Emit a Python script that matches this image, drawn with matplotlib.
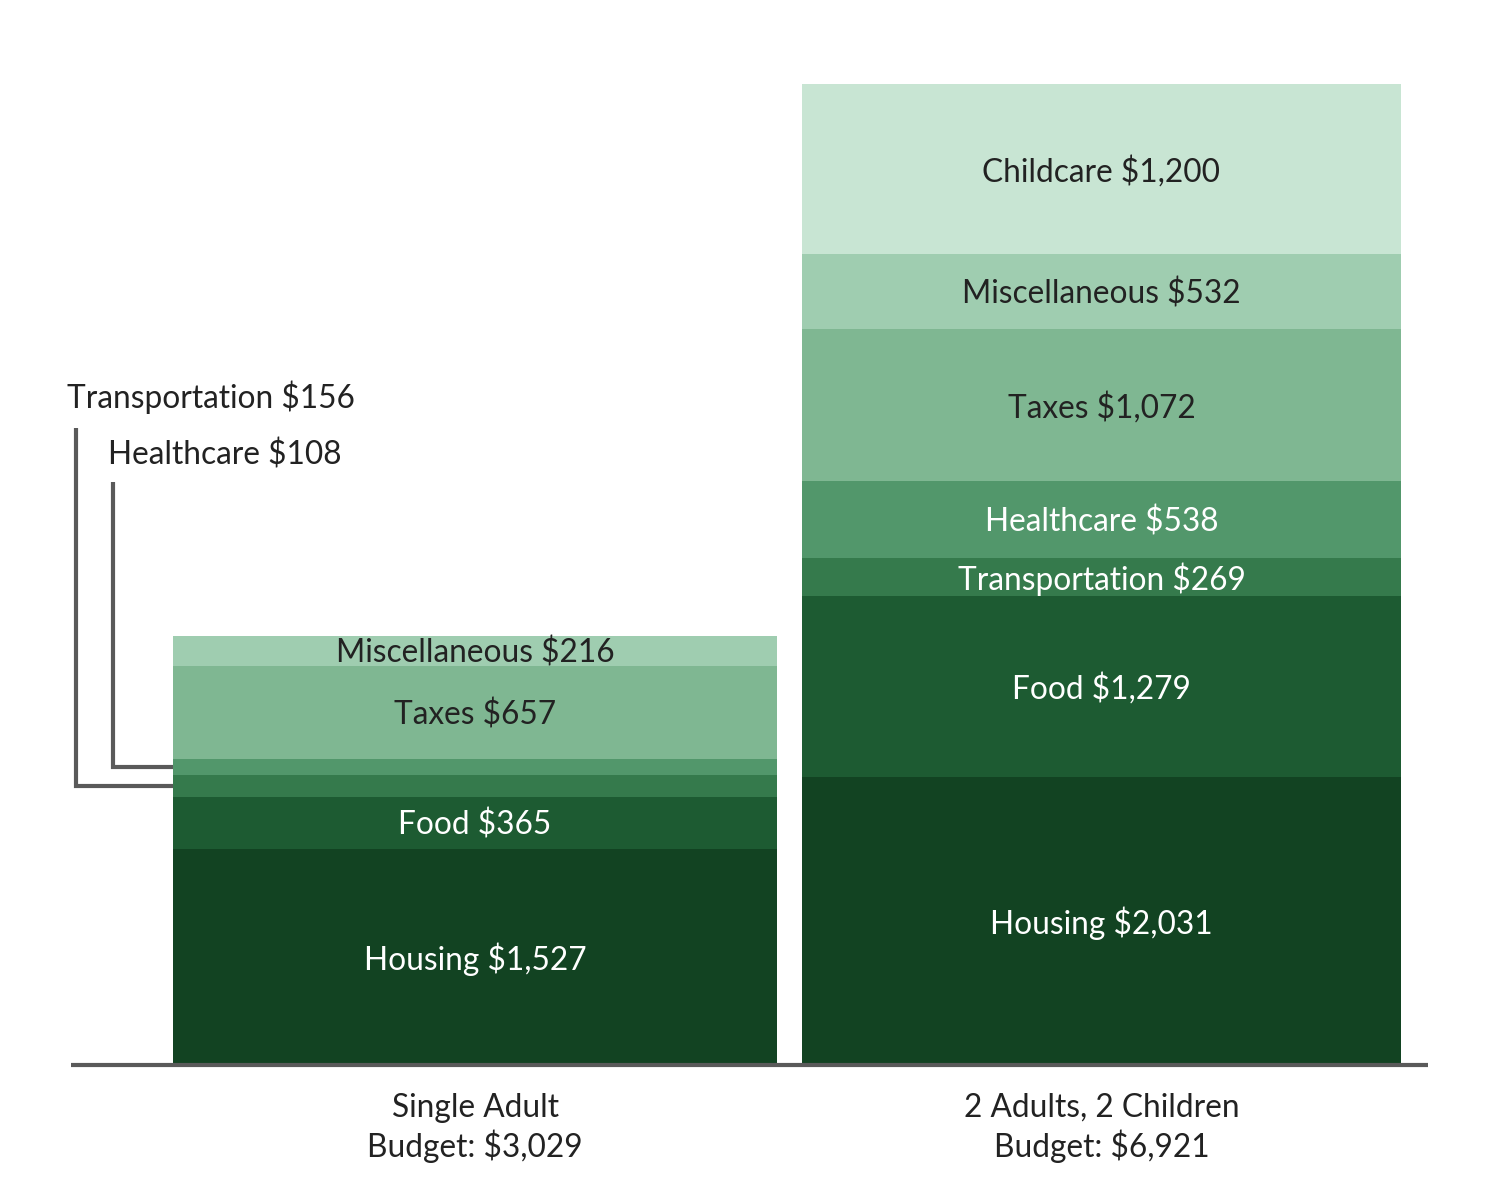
import matplotlib.pyplot as plt

# budget categories, bottom to top
categories = ['Housing', 'Food', 'Transportation', 'Healthcare', 'Taxes',
              'Miscellaneous', 'Childcare']
single_adult = [1527, 365, 156, 108, 657, 216, 0]
family = [2031, 1279, 269, 538, 1072, 532, 1200]
group_labels = ['Single Adult\nBudget: $3,029', '2 Adults, 2 Children\nBudget: $6,921']

colors = ['#124322', '#1d5b32', '#357a4c', '#52976b', '#7fb792', '#9fcdb0', '#c8e5d3']
text_colors = ['white', 'white', 'white', 'white', '#222222', '#222222', '#222222']

plt.rcParams['font.family'] = ['Lato', 'DejaVu Sans']

fig = plt.figure(figsize=(15, 12), dpi=100)
ax = fig.add_axes([0, 0, 1, 1])

# pixel-based x, dollar-based y
px_per_dollar = 981 / 6921
ax.set_xlim(0, 1500)
ax.set_ylim(-135 / px_per_dollar, 1065 / px_per_dollar)
ax.axis('off')

centers = [475, 1101.5]
widths = [604, 599]
label_size = 22.8
nudge = 2.5 / px_per_dollar  # labels sit a touch below segment centre

def stacked(center, width, values, outside=()):
	bottom = 0
	for i, v in enumerate(values):
		if v == 0:
			continue
		ax.bar(center, v, width=width, bottom=bottom, color=colors[i],
			   edgecolor='none', linewidth=0)
		if categories[i] not in outside:
			ax.text(center, bottom + v / 2 - nudge, '{} ${:,}'.format(categories[i], v),
					ha='center', va='center', fontsize=label_size,
					color=text_colors[i])
		bottom += v

stacked(centers[0], widths[0], single_adult, outside=('Transportation', 'Healthcare'))
stacked(centers[1], widths[1], family)

# leader lines for the thin segments on the single adult bar
bar_left = centers[0] - widths[0] / 2
y_to_d = lambda py: (1065 - py) / px_per_dollar
line_kw = dict(color='#5a5a5a', linewidth=3, solid_capstyle='butt', solid_joinstyle='miter')
trans_mid = single_adult[0] + single_adult[1] + single_adult[2] / 2
health_mid = single_adult[0] + single_adult[1] + single_adult[2] + single_adult[3] / 2
ax.plot([76, 76, bar_left], [y_to_d(428), trans_mid, trans_mid], **line_kw)
ax.plot([113, 113, bar_left], [y_to_d(482), health_mid, health_mid], **line_kw)
ax.text(67, y_to_d(397), 'Transportation ${:,}'.format(single_adult[2]),
		ha='left', va='center', fontsize=label_size, color='#222222')
ax.text(108, y_to_d(455), 'Healthcare ${:,}'.format(single_adult[3]),
		ha='left', va='center', fontsize=label_size, color='#222222')

# baseline
ax.plot([71, 1428], [0, 0], color='#5a5a5a', linewidth=3, solid_capstyle='butt')

for c, lab in zip(centers, group_labels):
	ax.text(c, y_to_d(1128), lab, ha='center', va='center', fontsize=label_size,
			color='#222222', linespacing=1.25)

fig.savefig('out.png', dpi=100)
